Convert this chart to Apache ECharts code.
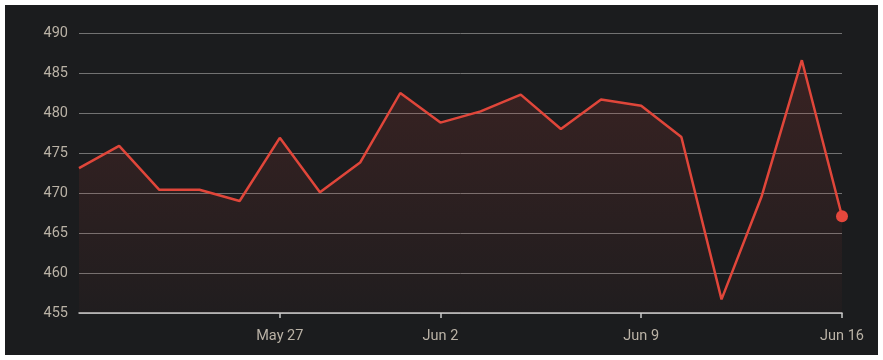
<!DOCTYPE html>
<html>
<head>
<meta charset="utf-8">
<script src="https://cdn.jsdelivr.net/npm/echarts@6/dist/echarts.min.js"></script>
<style>
html,body{margin:0;padding:0;background:#ffffff;}
#chart{position:absolute;left:5px;top:5px;width:873px;height:350px;}
</style>
</head>
<body>
<div id="chart"></div>
<script>
const dates = ["May 19","May 20","May 21","May 22","May 23","May 27","May 28","May 29","May 30","Jun 2","Jun 3","Jun 4","Jun 5","Jun 6","Jun 9","Jun 10","Jun 11","Jun 12","Jun 13","Jun 16"];
const values = [473.1,475.9,470.4,470.4,469.0,476.9,470.1,473.8,482.5,478.8,480.2,482.3,478.0,481.7,480.9,477.0,456.7,469.6,486.6,467.1];
const labeledDates = ["May 27","Jun 2","Jun 9","Jun 16"];
const yMin = 455, yMax = 490, yStep = 5;

const chart = echarts.init(document.getElementById('chart'));
const showIdx = (i) => labeledDates.indexOf(dates[i]) >= 0;
chart.setOption({
  backgroundColor: '#1b1c1e',
  animation: false,
  grid: {left: 74, right: 36, top: 28, bottom: 42},
  xAxis: {
    type: 'category',
    data: dates,
    boundaryGap: false,
    axisLine: {lineStyle: {color: '#c9c9c9', width: 1.5}},
    axisTick: {show: true, alignWithLabel: true, interval: (i) => showIdx(i), length: 5, lineStyle: {color: '#c9c9c9', width: 1.5}},
    axisLabel: {interval: (i) => showIdx(i), color: '#bab2a6', fontFamily: 'Roboto', fontSize: 14.5, margin: 16, showMaxLabel: true},
    splitLine: {show: false}
  },
  yAxis: {
    type: 'value',
    min: yMin, max: yMax, interval: yStep,
    axisLine: {show: false},
    axisTick: {show: false},
    axisLabel: {color: '#bab2a6', fontFamily: 'Roboto', fontSize: 14.5, margin: 11},
    splitLine: {lineStyle: {color: '#727272', width: 1}}
  },
  series: [{
    type: 'line',
    data: values,
    symbol: 'circle',
    symbolSize: (v, p) => p.dataIndex === values.length - 1 ? 12 : 0,
    showSymbol: true,
    itemStyle: {color: '#e5473c'},
    lineStyle: {color: '#e0463a', width: 2.5},
    areaStyle: {
      color: new echarts.graphic.LinearGradient(0, 0, 0, 1, [
        {offset: 0, color: 'rgba(224,70,58,0.22)'},
        {offset: 1, color: 'rgba(224,70,58,0.04)'}
      ])
    }
  }]
});
</script>
</body>
</html>
